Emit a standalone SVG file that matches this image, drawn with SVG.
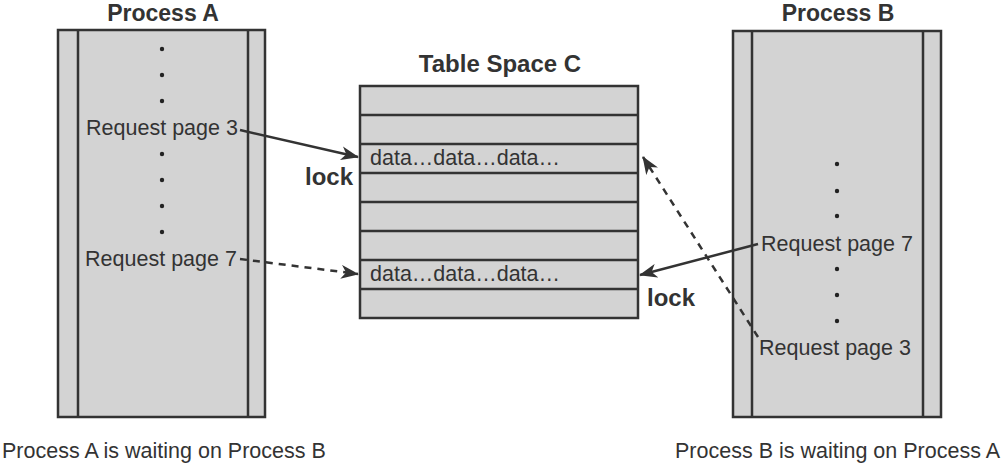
<svg xmlns="http://www.w3.org/2000/svg" width="1003" height="466" viewBox="0 0 1003 466">
<style>
.box{fill:#d3d3d3;stroke:#333;stroke-width:2.5}
.ln{stroke:#333;stroke-width:2.5;fill:none}
.t{font-family:"Liberation Sans",Arial,sans-serif;font-size:21.5px;fill:#333}
.b{font-family:"Liberation Sans",Arial,sans-serif;font-size:24px;font-weight:bold;fill:#333}
.h{font-family:"Liberation Sans",Arial,sans-serif;font-size:23px;font-weight:bold;fill:#333}
.dot{fill:#222}
.arr{stroke:#333;stroke-width:2.5;fill:none;marker-end:url(#ah)}
.dash{stroke-dasharray:7 6}
</style>
<defs>
<marker id="ah" markerUnits="userSpaceOnUse" markerWidth="20" markerHeight="14" refX="17" refY="7" orient="auto">
<path d="M0,0 L18,7 L0,14 L5,7 Z" fill="#333"/>
</marker>
</defs>
<g id="processA">
<text class="h" x="163" y="21" text-anchor="middle">Process A</text>
<rect class="box" x="58" y="30" width="207" height="387"/>
<line class="ln" x1="78" y1="30" x2="78" y2="417"/>
<line class="ln" x1="248" y1="30" x2="248" y2="417"/>
<circle class="dot" cx="162" cy="49" r="2.2"/>
<circle class="dot" cx="162" cy="75" r="2.2"/>
<circle class="dot" cx="162" cy="101" r="2.2"/>
<text class="t" x="162" y="135" text-anchor="middle">Request page 3</text>
<circle class="dot" cx="162" cy="154" r="2.2"/>
<circle class="dot" cx="162" cy="180" r="2.2"/>
<circle class="dot" cx="162" cy="206" r="2.2"/>
<circle class="dot" cx="162" cy="232" r="2.2"/>
<text class="t" x="161" y="266" text-anchor="middle">Request page 7</text>
</g>
<g id="tableC">
<text class="b" x="500" y="72" text-anchor="middle">Table Space C</text>
<rect class="box" x="360" y="86" width="278" height="232"/>
<line class="ln" x1="360" y1="115" x2="638" y2="115"/>
<line class="ln" x1="360" y1="144" x2="638" y2="144"/>
<line class="ln" x1="360" y1="173" x2="638" y2="173"/>
<line class="ln" x1="360" y1="202" x2="638" y2="202"/>
<line class="ln" x1="360" y1="231" x2="638" y2="231"/>
<line class="ln" x1="360" y1="260" x2="638" y2="260"/>
<line class="ln" x1="360" y1="289" x2="638" y2="289"/>
<text class="t" x="370" y="165">data…data…data…</text>
<text class="t" x="370" y="281">data…data…data…</text>
</g>
<g id="processB">
<text class="h" x="838" y="21" text-anchor="middle">Process B</text>
<rect class="box" x="733" y="31" width="208" height="386"/>
<line class="ln" x1="752" y1="31" x2="752" y2="417"/>
<line class="ln" x1="923" y1="31" x2="923" y2="417"/>
<circle class="dot" cx="837" cy="164" r="2.2"/>
<circle class="dot" cx="837" cy="191" r="2.2"/>
<circle class="dot" cx="837" cy="216" r="2.2"/>
<text class="t" x="837" y="251" text-anchor="middle">Request page 7</text>
<circle class="dot" cx="837" cy="269" r="2.2"/>
<circle class="dot" cx="837" cy="295" r="2.2"/>
<circle class="dot" cx="837" cy="321" r="2.2"/>
<text class="t" x="835" y="355" text-anchor="middle">Request page 3</text>
</g>
<g id="labels">
<text class="b" x="305" y="185">lock</text>
<text class="b" x="647" y="306">lock</text>
<text class="t" x="2" y="458">Process A is waiting on Process B</text>
<text class="t" x="675" y="458">Process B is waiting on Process A</text>
</g>
<g id="connectors">
<line class="arr" x1="240" y1="130" x2="358" y2="157"/>
<line class="arr dash" x1="240" y1="259" x2="358" y2="274"/>
<line class="arr" x1="758" y1="244" x2="640" y2="275"/>
<line class="arr dash" x1="758" y1="337" x2="643" y2="157"/>
</g>
</svg>
